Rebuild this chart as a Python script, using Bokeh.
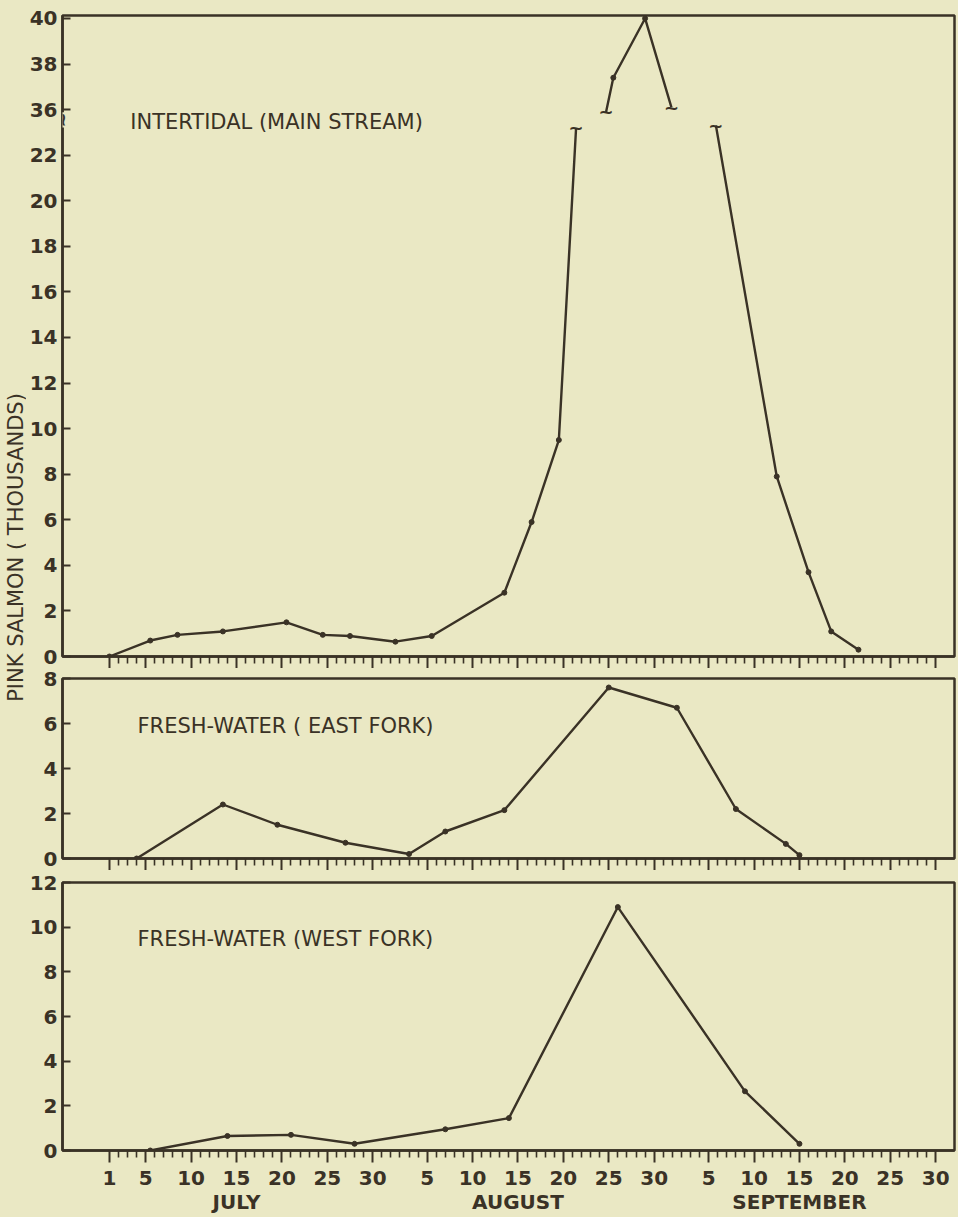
import math
from bokeh.plotting import figure
from bokeh.layouts import row, column
from bokeh.models import FixedTicker, Range1d, Label
from bokeh.core.properties import value
from bokeh.embed import file_html
from bokeh.resources import INLINE

BG = "#eae8c4"
INK = "#3a3226"
FONT = "DejaVu Sans"

# Day of season: July d -> d, August d -> 31 + d, September d -> 62 + d
# Intertidal (main stream) -- values in thousands
main_low_days = [1, 5.5, 8.5, 13.5, 20.5, 24.5, 27.5, 32.5, 36.5, 44.5, 47.5, 50.5]
main_low_vals = [0, 0.7, 0.95, 1.1, 1.5, 0.95, 0.9, 0.65, 0.9, 2.8, 5.9, 9.5]
main_peak_days = [56.5, 60.0]
main_peak_vals = [37.4, 40.0]
main_tail_days = [74.5, 78.0, 80.5, 83.5]
main_tail_vals = [7.9, 3.7, 1.1, 0.3]
# where the line is interrupted by the scale break
main_break_days = [52.4, 55.7, 62.9, 67.8]
main_break_vals = [23.2, 35.9, 36.1, 23.3]

# Fresh-water (East Fork)
east_days = [4, 13.5, 19.5, 27, 34, 38, 44.5, 56, 63.5, 70, 75.5, 77]
east_vals = [0, 2.4, 1.5, 0.7, 0.2, 1.2, 2.15, 7.6, 6.7, 2.2, 0.65, 0.15]

# Fresh-water (West Fork)
west_days = [5.5, 14, 21, 28, 38, 45, 57, 71, 77]
west_vals = [0, 0.65, 0.7, 0.3, 0.95, 1.45, 10.9, 2.65, 0.3]

# Axis labels
month_names = ["JULY", "AUGUST", "SEPTEMBER"]
month_offsets = [0, 31, 62]
month_lengths = [31, 31, 30]
month_tick_days = [[1, 5, 10, 15, 20, 25, 30],
                   [5, 10, 15, 20, 25, 30],
                   [5, 10, 15, 20, 25, 30]]
top_ytick_vals = [0, 2, 4, 6, 8, 10, 12, 14, 16, 18, 20, 22, 36, 38, 40]
east_ytick_vals = [0, 2, 4, 6, 8]
west_ytick_vals = [0, 2, 4, 6, 8, 10, 12]
titles = ["INTERTIDAL (MAIN STREAM)", "FRESH-WATER ( EAST FORK)", "FRESH-WATER (WEST FORK)"]
ylabel = "PINK SALMON ( THOUSANDS)"

BREAK_SHIFT = 12  # 36..40 drawn right above 22..24


def brk(v):
    return v if v < 30 else v - BREAK_SHIFT


major_ticks, overrides, minor_ticks = [], {}, []
for name, off, n, days in zip(month_names, month_offsets, month_lengths, month_tick_days):
    for d in days:
        major_ticks.append(off + d)
        overrides[off + d] = f"{d}\n{name}" if d == 15 else f"{d}"
    for d in range(1, n + 1):
        if d not in days:
            minor_ticks.append(off + d)

PX_PER_DAY = 9.1
X0 = 1 - 47 / PX_PER_DAY
X1 = 1 + 847 / PX_PER_DAY
LAB_W = 26
PANEL_W = 930


def panel(height, ymax, btop, bbottom, yticks, ylabels, bottom=False):
    p = figure(width=PANEL_W, height=height, x_range=Range1d(X0, X1), y_range=Range1d(0, ymax),
               output_backend="svg", toolbar_location=None,
               min_border_left=34, min_border_right=2, min_border_top=btop,
               min_border_bottom=bbottom,
               background_fill_color=BG, border_fill_color=BG,
               outline_line_color=INK, outline_line_width=2.5)
    p.grid.visible = False
    ya = p.yaxis[0]
    ya.ticker = FixedTicker(ticks=yticks)
    ya.major_label_overrides = ylabels
    ya.major_tick_in = 8
    ya.major_tick_out = 0
    ya.minor_tick_in = 0
    ya.minor_tick_out = 0
    ya.axis_line_color = INK
    ya.axis_line_width = 2.5
    ya.major_tick_line_color = INK
    ya.major_tick_line_width = 2
    ya.major_label_standoff = 5
    ya.major_label_text_font = FONT
    ya.major_label_text_font_style = "bold"
    ya.major_label_text_font_size = "20px"
    ya.major_label_text_color = INK

    xa = p.xaxis[0]
    xa.ticker = FixedTicker(ticks=major_ticks, minor_ticks=minor_ticks)
    xa.major_tick_in = 0
    xa.major_tick_out = 12
    xa.minor_tick_in = 0
    xa.minor_tick_out = 7
    xa.axis_line_color = INK
    xa.axis_line_width = 2.5
    xa.major_tick_line_color = INK
    xa.major_tick_line_width = 2
    xa.minor_tick_line_color = INK
    xa.minor_tick_line_width = 1.6
    if bottom:
        xa.major_label_overrides = overrides
        xa.major_label_standoff = 3
        xa.major_label_text_font = FONT
        xa.major_label_text_font_style = "bold"
        xa.major_label_text_font_size = "20px"
        xa.major_label_text_color = INK
        xa.major_label_text_line_height = 1.0
    else:
        xa.major_label_standoff = 0
        xa.major_label_text_color = None
    return p


def add_series(p, xs, ys):
    p.line(xs, ys, line_color=INK, line_width=2.4, line_join="round", line_cap="round")
    p.scatter(xs, ys, size=5, marker="circle", fill_color=INK, line_color=INK)


def add_title(p, x, y, t):
    p.text(x=[x], y=[y], text=[t], text_font=value(FONT), text_font_size="21px",
           text_color=INK, text_align="left", text_baseline="middle")


# --- top panel: intertidal, broken scale ---
top_labels = {brk(v): str(v) for v in top_ytick_vals}
p1 = panel(668, 28.13, 15, 11, [brk(v) for v in top_ytick_vals], top_labels)
seg1_x = main_low_days + [main_break_days[0]]
seg1_y = main_low_vals + [main_break_vals[0]]
seg2_x = [main_break_days[1]] + main_peak_days + [main_break_days[2]]
seg2_y = [brk(v) for v in [main_break_vals[1]] + main_peak_vals + [main_break_vals[2]]]
seg3_x = [main_break_days[3]] + main_tail_days
seg3_y = [main_break_vals[3]] + main_tail_vals
for sx, sy in [(seg1_x, seg1_y), (seg2_x, seg2_y), (seg3_x, seg3_y)]:
    p1.line(sx, sy, line_color=INK, line_width=2.4, line_join="round")
p1.scatter(main_low_days + main_peak_days + main_tail_days,
           main_low_vals + [brk(v) for v in main_peak_vals] + main_tail_vals,
           size=5, marker="circle", fill_color=INK, line_color=INK)
p1.text(x=main_break_days, y=[brk(v) for v in main_break_vals], text=["~"] * 4,
        text_font=value(FONT), text_font_size="18px", text_font_style="bold",
        text_color=INK, text_align="center", text_baseline="middle")
# squiggle marking the break of the vertical scale
p1.add_layout(Label(x=X0, y=23.55, text="~", angle=math.pi / 2, text_font=FONT,
                    text_font_size="18px", text_font_style="bold", text_color=INK,
                    text_align="center", text_baseline="middle",
                    background_fill_color=BG))
add_title(p1, 3.3, 23.47, titles[0])

# --- middle panel: east fork ---
p2 = panel(202, 8, 10, 12, east_ytick_vals, {})
add_series(p2, east_days, east_vals)
add_title(p2, 4.1, 5.9, titles[1])

# --- bottom panel: west fork ---
p3 = panel(346, 12, 12, 66, west_ytick_vals, {}, bottom=True)
add_series(p3, west_days, west_vals)
add_title(p3, 4.1, 9.48, titles[2])

TOTAL_H = 668 + 202 + 346

# --- shared vertical axis title ---
lab = figure(width=LAB_W, height=TOTAL_H, x_range=Range1d(0, LAB_W), y_range=Range1d(0, TOTAL_H),
             output_backend="svg", toolbar_location=None,
             x_axis_location=None, y_axis_location=None,
             min_border_left=0, min_border_right=0, min_border_top=0, min_border_bottom=0,
             background_fill_color=BG, border_fill_color=BG, outline_line_color=None)
lab.grid.visible = False
lab.text(x=[15], y=[TOTAL_H - 547], text=[ylabel], angle=math.pi / 2,
         text_font=value(FONT), text_font_size="21px", text_color=INK,
         text_align="center", text_baseline="middle")

layout = row(lab, column(p1, p2, p3))

html = file_html(layout, INLINE)
html = html.replace("<body>", '<body style="background-color:%s;">' % BG)
open("out.html", "w").write(html)
